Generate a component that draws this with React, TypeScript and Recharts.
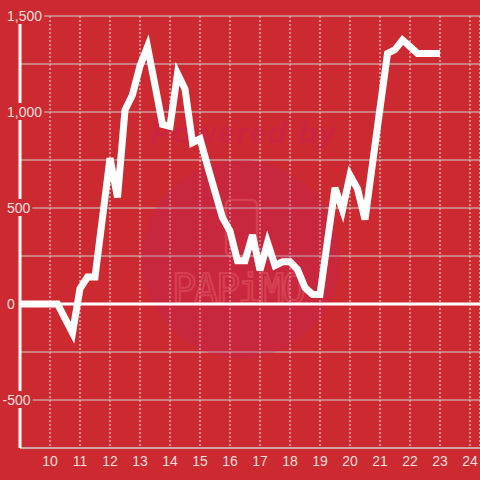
import { LineChart, Line, XAxis, YAxis, CartesianGrid, ReferenceLine, Customized } from 'recharts';

// quarter-hour samples, 9:00 to 23:00
const hours = [
  9, 9.25, 9.5, 9.75, 10, 10.25, 10.5, 10.75, 11, 11.25, 11.5, 11.75,
  12, 12.25, 12.5, 12.75, 13, 13.25, 13.5, 13.75, 14, 14.25, 14.5, 14.75,
  15, 15.25, 15.5, 15.75, 16, 16.25, 16.5, 16.75, 17, 17.25, 17.5, 17.75,
  18, 18.25, 18.5, 18.75, 19, 19.25, 19.5, 19.75, 20, 20.25, 20.5, 20.75,
  21, 21.25, 21.5, 21.75, 22, 22.25, 22.5, 22.75, 23,
];

const values = [
  0, 0, 0, 0, 0, 0, -75, -150, 80, 140, 140, 450,
  760, 555, 1010, 1090, 1240, 1340, 1140, 935, 925, 1200, 1120, 840,
  860, 720, 585, 450, 380, 225, 225, 360, 175, 320, 200, 220,
  220, 180, 85, 50, 50, 330, 605, 490, 670, 600, 440, 730,
  1020, 1305, 1325, 1375, 1340, 1305, 1305, 1305, 1305,
];

const xTicks = [10, 11, 12, 13, 14, 15, 16, 17, 18, 19, 20, 21, 22, 23, 24];
const yTicks = [-750, -500, -250, 0, 250, 500, 750, 1000, 1250, 1500];
const yLabelled = [-500, 0, 500, 1000, 1500];

const data = hours.map((t, i) => ({ t, v: values[i] }));

const BG = '#cc2a30';
const TEXT = 'rgba(255,255,255,0.85)';
const FONT = '"Liberation Sans", Arial, sans-serif';

function textWidth(s: string) {
  let w = 0;
  for (const c of s) w += c === ',' ? 3.9 : c === '-' ? 4.7 : 7.8;
  return w;
}

function YTick(props: any) {
  const { y, payload } = props;
  if (!yLabelled.includes(payload.value)) return <g />;
  const label = payload.value.toLocaleString('en-US');
  const w = textWidth(label);
  const tx = payload.value < 0 ? 2.5 : 7;
  return (
    <g>
      <rect x={tx - 2} y={y - 9} width={w + 4} height={17} fill={BG} />
      <text x={tx} y={y + 5} fontSize={14} fontFamily={FONT} fill={TEXT} textAnchor="start">
        {label}
      </text>
    </g>
  );
}

function XTick(props: any) {
  const { x, payload } = props;
  return (
    <text x={x} y={466} fontSize={14} fontFamily={FONT} fill={TEXT} textAnchor="middle">
      {payload.value}
    </text>
  );
}

// faint "powered by" stamp behind the plot
function Watermark() {
  return (
    <g>
      <circle cx={241} cy={259} r={99} fill="rgb(190,30,110)" fillOpacity={0.22} />
      <text
        x={243}
        y={143}
        fontSize={30}
        fontWeight="bold"
        fontStyle="italic"
        fontFamily={FONT}
        textAnchor="middle"
        textLength={185}
        fill="rgb(200,30,90)"
        fillOpacity={0.45}
      >
        Powered by
      </text>
      <rect x={226} y={200} width={31} height={56} rx={5} fill="none" stroke="rgb(235,110,120)" strokeOpacity={0.35} strokeWidth={2.5} />
      <text
        x={239}
        y={303}
        fontSize={40}
        fontFamily='"DejaVu Sans Mono", monospace'
        textAnchor="middle"
        textLength={134}
        fill="none"
        stroke="rgb(235,110,120)"
        strokeOpacity={0.4}
        strokeWidth={2}
      >
        PAPiMO
      </text>
    </g>
  );
}

export default function App() {
  return (
    <div style={{ position: 'absolute', left: 0, top: 0, width: 480, height: 480, background: BG }}>
      <LineChart width={480} height={480} data={data} margin={{ top: 16, right: 0, bottom: 0, left: 0 }}>
        <Customized component={<Watermark />} />
        <CartesianGrid horizontal vertical={false} stroke="#cfcfcf" strokeWidth={1} />
        <CartesianGrid horizontal={false} vertical stroke="#e6e6e6" strokeDasharray="2 2" />
        <XAxis
          dataKey="t"
          type="number"
          domain={[9, 24.3333]}
          ticks={xTicks}
          allowDataOverflow
          height={32}
          axisLine={{ stroke: '#cfcfcf', strokeWidth: 1 }}
          tickLine={false}
          tick={<XTick />}
          interval={0}
        />
        <YAxis
          type="number"
          domain={[-750, 1500]}
          ticks={yTicks}
          width={20}
          axisLine={{ stroke: '#ffffff', strokeWidth: 3 }}
          tickLine={false}
          tick={<YTick />}
          interval={0}
        />
        <ReferenceLine y={0} stroke="#ffffff" strokeWidth={3} />
        <Line
          type="linear"
          dataKey="v"
          stroke="#ffffff"
          strokeWidth={7}
          dot={false}
          activeDot={false}
          isAnimationActive={false}
        />
      </LineChart>
    </div>
  );
}
